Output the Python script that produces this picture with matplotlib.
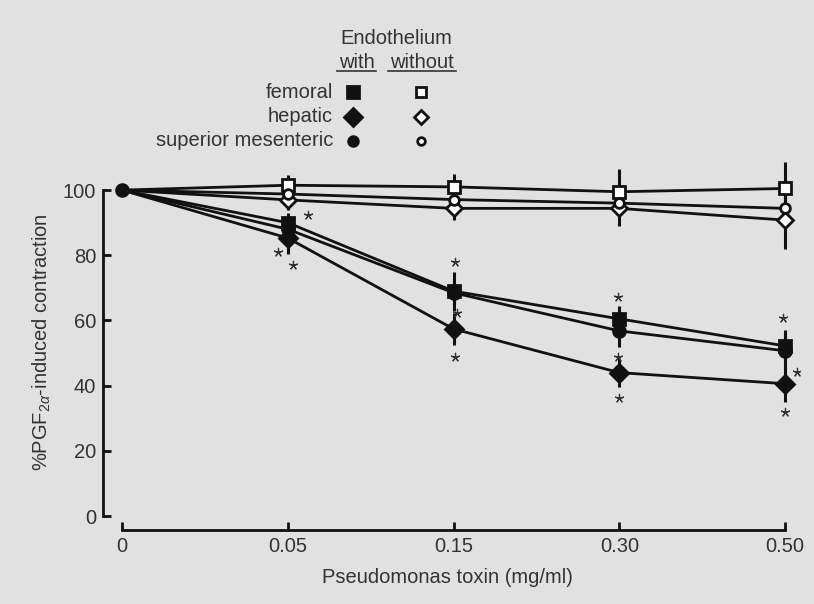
import matplotlib
matplotlib.use("Agg")
import matplotlib.pyplot as plt
from matplotlib.lines import Line2D

plt.rcParams["font.family"] = ["Liberation Sans", "DejaVu Sans"]
plt.rcParams["mathtext.fontset"] = "custom"
plt.rcParams["mathtext.rm"] = "Liberation Sans"
plt.rcParams["mathtext.it"] = "Liberation Sans:italic"

# ---- data ----
doses = ["0", "0.05", "0.15", "0.30", "0.50"]

fem_with = [100, 90, 69, 60.5, 52.2]
fem_with_err = [0, 3, 6, 4, 5]
hep_with = [100, 85.3, 57.4, 44, 40.6]
hep_with_err = [0, 5, 5, 4.5, 5.5]
sm_with = [100, 88, 68.5, 56.8, 50.7]
sm_with_err = [0, 2, 3, 5, 6]

fem_without = [100, 101.5, 101, 99.5, 100.5]
fem_without_err = [0, 3, 4, 7, 8]
hep_without = [100, 97, 94.4, 94.4, 90.8]
hep_without_err = [0, 3, 3.6, 5.5, 9]
sm_without = [100, 98.8, 97.1, 96, 94.4]
sm_without_err = [0, 1.5, 1.5, 1.5, 1.5]

# significance stars (dose index, value)
star_x = [1.12, 0.94, 1.03, 2.01, 2.02, 2.01, 2.99, 2.99, 3.0, 3.99, 4.07, 4.0]
star_y = [92.3, 81, 77, 78, 62.3, 48.8, 67.2, 48.8, 36.2, 60.7, 44.2, 31.9]

bg = "#e1e1e1"
ink = "#111111"
txt = "#333333"
fs = 14.5

fig = plt.figure(figsize=(8.14, 6.04), dpi=100, facecolor=bg)
ax = fig.add_axes([0.1167, 0.1142, 0.8661, 0.6374], facecolor=bg)
x = list(range(len(doses)))

# the shared 100% control point is drawn once (filled circle)
series = [
    (fem_without, fem_without_err, "s", "white", 8, 1),
    (hep_without, hep_without_err, "D", "white", 8, 1),
    (sm_without, sm_without_err, "o", "white", 7, 1),
    (fem_with, fem_with_err, "s", ink, 9, 1),
    (hep_with, hep_with_err, "D", ink, 9, 1),
    (sm_with, sm_with_err, "o", ink, 8.5, 0),
]
for vals, err, mk, fc, ms, start in series:
    ax.errorbar(x, vals, yerr=err, fmt="-", color=ink, lw=2, elinewidth=2.2,
                capsize=0, marker=mk, ms=ms, mfc=fc, mec=ink, mew=2, zorder=3,
                markevery=slice(start, None))

ax.scatter(star_x, star_y, marker=(5, 2, 0), s=36, color=txt, linewidths=0.9, zorder=4)

ax.set_xlim(-0.163, 4.09)
ax.set_ylim(-5.83, 112.3)
ax.set_xticks(x, labels=doses)
ax.set_yticks([0, 20, 40, 60, 80, 100])

for s in ["top", "right"]:
    ax.spines[s].set_visible(False)
ax.spines["left"].set_position(("data", -0.115))
ax.spines["left"].set_bounds(0, 100)
ax.spines["bottom"].set_position(("data", -4.3))
ax.spines["bottom"].set_bounds(0, 4)
for s in ["left", "bottom"]:
    ax.spines[s].set_linewidth(2)
    ax.spines[s].set_color(ink)
ax.tick_params(direction="in", length=6, width=2, color=ink, labelsize=fs,
               labelcolor=txt, pad=5)

ax.set_xlabel("Pseudomonas toxin (mg/ml)", fontsize=fs, color=txt, labelpad=9)
ax.set_ylabel(r"%PGF$_{2\alpha}$-induced contraction", fontsize=fs, color=txt, labelpad=7)

# ---- legend drawn by hand ----
def fx(px):
    return px / 814

def fy(py):
    return 1 - py / 604

fig.text(fx(396), fy(38), "Endothelium", ha="center", va="center", fontsize=fs, color=txt)
fig.text(fx(357), fy(62), "with", ha="center", va="center", fontsize=fs, color=txt)
fig.text(fx(422), fy(62), "without", ha="center", va="center", fontsize=fs, color=txt)
fig.add_artist(Line2D([fx(337), fx(376)], [fy(71), fy(71)], color=txt, lw=1.2))
fig.add_artist(Line2D([fx(388), fx(456)], [fy(71), fy(71)], color=txt, lw=1.2))

rows = ["femoral", "hepatic", "superior mesenteric"]
row_y = [92, 117, 141]
row_mk = ["s", "D", "o"]
row_ms = [9, 9, 7]
for name, py, mk, ms in zip(rows, row_y, row_mk, row_ms):
    fig.text(fx(333), fy(py), name, ha="right", va="center", fontsize=fs, color=txt)
    fig.add_artist(Line2D([fx(353)], [fy(py)], marker=mk, ms=ms, mfc=ink, mec=ink, mew=2, ls=""))
    fig.add_artist(Line2D([fx(421)], [fy(py)], marker=mk, ms=ms - 1.5, mfc="white", mec=ink, mew=2, ls=""))

fig.savefig("out.png", dpi=100, facecolor=bg)
